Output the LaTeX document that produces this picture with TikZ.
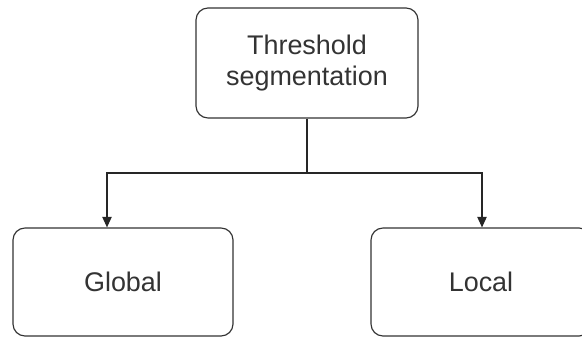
\documentclass[tikz,border=0pt]{standalone}
\usepackage{fontspec}
\setmainfont{Liberation Sans}
\usetikzlibrary{arrows.meta}
\begin{document}
\begin{tikzpicture}[x=0.03cm, y=-0.03cm, thick]
	\tikzstyle{box}  = [draw=black!80, line width=1pt, rounded corners=0.36cm, align=center, text=black!80, font=\fontsize{23}{27}\selectfont, inner sep=0pt]
	\tikzstyle{root} = [box, minimum width=6.66cm, minimum height=3.3cm]
	\tikzstyle{leaf} = [box, minimum width=6.6cm, minimum height=3.24cm]

	\useasboundingbox (0,0) rectangle (582,338);

	\node[root] (thresh) at (307, 63) {Threshold\\segmentation};
	\node[leaf] (glob) at (123, 282) {Global};
	\node[leaf] (loc) at (481, 282) {Local};

	\coordinate (split) at (307, 173);
	\draw[line width=1pt, black!85] (thresh.south) -- (split);
	\foreach \to/\dx in {glob/-16, loc/1}
		\draw[line width=1pt, black!85, -{Triangle[length=9pt, width=8pt]}] (split) -| ([xshift=\dx*0.03cm]\to.north);
\end{tikzpicture}
\end{document}
